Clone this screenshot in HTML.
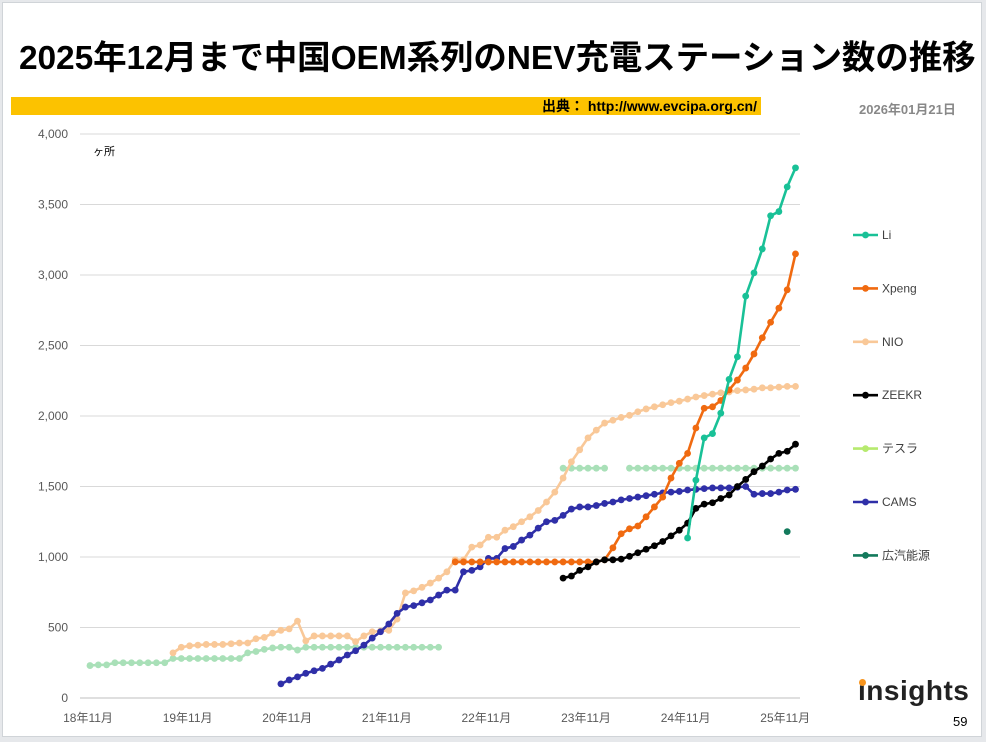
<!DOCTYPE html>
<html><head><meta charset="utf-8">
<style>
body{margin:0;background:#e6e8eb;}
#slide{position:absolute;left:2px;top:2px;width:978px;height:733px;background:#fff;border:1px solid #d0d4d8;font-family:"Liberation Sans","Noto Sans CJK JP",sans-serif;overflow:hidden;}
#title{position:absolute;left:16px;top:27px;font-size:33.5px;font-weight:bold;color:#000;white-space:nowrap;letter-spacing:-0.1px;}
#bar{position:absolute;left:8px;top:94px;width:750px;height:18px;background:#fcc200;}
#src{position:absolute;right:224px;top:94px;font-size:14px;font-weight:bold;line-height:18px;}
#date{position:absolute;left:856px;top:96px;font-size:13px;font-weight:bold;color:#888;}
#logo{position:absolute;left:855px;top:672px;font-size:28px;font-weight:bold;color:#222;letter-spacing:0.5px;}
#dot{position:absolute;left:856px;top:676px;width:7px;height:7px;border-radius:50%;background:#f7941d;}
#pg{position:absolute;left:950px;top:711px;font-size:13px;color:#000;}
</style></head><body>
<div id="slide">
<div id="title">2025年12月まで中国OEM系列のNEV充電ステーション数の推移</div>
<div id="bar"></div>
<div id="src">出典： http://www.evcipa.org.cn/</div>
<div id="date">2026年01月21日</div>
<div id="logo">insights</div>
<div id="dot"></div>
<div id="pg">59</div>
</div>
<svg id="chart" width="986" height="742" style="position:absolute;left:0;top:0"></svg>
<script>
const xLabels=["18年11月","19年11月","20年11月","21年11月","22年11月","23年11月","24年11月","25年11月"];
const yTicks=[0,500,1000,1500,2000,2500,3000,3500,4000];
const seriesNames=["Li","Xpeng","NIO","ZEEKR","テスラ","CAMS","広汽能源"];
const seriesStart=[72,44,10,57,0,23,84];
const liVals=[1135,1545,1845,1875,2020,2260,2420,2850,3015,3185,3420,3450,3625,3760];
const xpengVals=[965,965,965,965,965,965,965,965,965,965,965,965,965,965,965,965,965,965,980,1065,1165,1200,1220,1285,1355,1425,1560,1665,1735,1915,2055,2065,2110,2185,2255,2340,2440,2555,2665,2765,2895,3150];
const nioVals=[320,360,370,375,380,380,380,385,390,390,420,430,460,480,490,545,405,440,440,440,440,440,400,440,470,475,480,560,745,760,785,815,850,895,980,980,1070,1085,1140,1140,1190,1215,1250,1285,1330,1390,1460,1560,1675,1760,1845,1900,1950,1970,1990,2005,2030,2050,2065,2080,2095,2105,2120,2135,2145,2155,2165,2170,2180,2185,2190,2200,2200,2205,2210,2210];
const zeekrVals=[850,865,905,930,965,980,980,985,1005,1030,1055,1080,1110,1150,1190,1240,1345,1375,1385,1415,1440,1500,1550,1605,1645,1695,1735,1750,1800];
const teslaVals=[230,235,235,250,250,250,250,250,250,250,280,280,280,280,280,280,280,280,280,320,330,345,355,360,360,340,360,360,360,360,360,360,360,360,360,360,360,360,360,360,360,360,360,null,null,null,null,null,null,null,null,null,null,null,null,null,null,1630,1630,1630,1630,1630,1630,null,null,1630,1630,1630,1630,1630,1630,1630,1630,1630,1630,1630,1630,1630,1630,1630,1630,1630,1630,1630,1630,1630];
const camsVals=[100,128,150,175,193,210,240,270,305,335,375,425,470,525,600,645,655,675,695,730,765,765,895,905,930,990,990,1060,1075,1120,1155,1205,1250,1260,1295,1340,1355,1355,1365,1380,1390,1405,1415,1425,1435,1445,1455,1460,1465,1475,1480,1485,1490,1490,1490,1495,1500,1445,1450,1450,1460,1475,1480];
const gacVals=[1180];
const seriesVals=[liVals,xpengVals,nioVals,zeekrVals,teslaVals,camsVals,gacVals];
const lineColors=["#19c197","#f06a10","#f9c898","#000000","#a9e0b8","#2f2fa8","#137a5c"];
const legendColors=["#19c197","#f06a10","#f9c898","#000000","#b6ea6e","#2f2fa8","#137a5c"];

const X0=90,DX=8.3,Y0=698,YS=0.141;
const xPos=i=>X0+i*DX, yPos=v=>Y0-v*YS;
const svg=document.getElementById('chart');
const NS="http://www.w3.org/2000/svg";
function mk(tag,attrs,parent){const e=document.createElementNS(NS,tag);for(const k in attrs)e.setAttribute(k,attrs[k]);(parent||svg).appendChild(e);return e;}
const F='"Liberation Sans","Noto Sans CJK JP",sans-serif';
yTicks.forEach(t=>{
  const g=mk('line',{x1:80,x2:800,y1:yPos(t),y2:yPos(t),stroke:t===0?'#bfbfbf':'#d9d9d9','stroke-width':1});
  
  
  const l=mk('text',{x:68,y:yPos(t)+4,'text-anchor':'end','font-size':12,fill:'#595959','font-family':F});
  l.textContent=t.toLocaleString('en-US');
  
  
});
xLabels.forEach((s,k)=>{
  const l=mk('text',{x:xPos(k*12)-2,y:722,'text-anchor':'middle','font-size':12,fill:'#595959','font-family':F});
  l.textContent=s;
  
  
});
const u=mk('text',{x:93,y:155,'font-size':11,fill:'#000','font-family':F});
u.textContent='ヶ所';


const order=[4,2,5,1,3,0,6];
order.forEach(si=>{
  const vals=seriesVals[si],st=seriesStart[si],c=lineColors[si];
  const g=mk('g',{});
  
  
  let d='',pen=false;
  vals.forEach((v,j)=>{if(v==null){pen=false;return;}d+=(pen?'L':'M')+xPos(st+j)+' '+yPos(v)+' ';pen=true;});
  if(vals.length>1){const p=mk('path',{d:d,fill:'none',stroke:c,'stroke-width':2.6},g);
  
  }
  vals.forEach((v,j)=>{if(v==null)return;
    const m=mk('circle',{cx:xPos(st+j),cy:yPos(v),r:3.4,fill:c},g);
    
    });
});
seriesNames.forEach((n,i)=>{
  const y=235+i*53.4;
  const g=mk('g',{});
  
  
  mk('line',{x1:853,x2:878,y1:y,y2:y,stroke:legendColors[i],'stroke-width':2.6},g);
  mk('circle',{cx:865.5,cy:y,r:3.4,fill:legendColors[i]},g);
  const t=mk('text',{x:882,y:y+4,'font-size':12,fill:'#404040','font-family':F},g);
  t.textContent=n;
});
</script>
</body></html>
